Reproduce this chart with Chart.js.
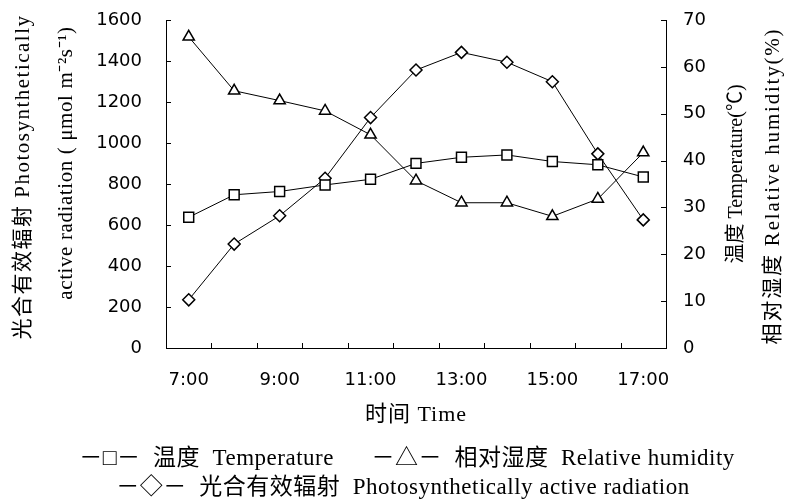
<!DOCTYPE html>
<html>
<head>
<meta charset="utf-8">
<script src="https://cdn.jsdelivr.net/npm/chart.js@4.4.0/dist/chart.umd.min.js"></script>
<style>
  html, body { margin: 0; padding: 0; background: #fff; }
  #wrap { width: 790px; height: 503px; position: relative; }
</style>
</head>
<body>
<div id="wrap"><canvas id="chart" width="790" height="503"></canvas></div>
<script>
// data
const hours = ['7:00', '8:00', '9:00', '10:00', '11:00', '12:00', '13:00', '14:00', '15:00', '16:00', '17:00'];
const temperature = [27.9, 32.7, 33.4, 34.8, 36.0, 39.4, 40.7, 41.2, 39.8, 39.1, 36.5];
const humidity = [66.4, 54.9, 52.8, 50.6, 45.5, 35.7, 31.0, 31.0, 28.1, 31.8, 41.7];
const par = [235, 507, 645, 828, 1124, 1356, 1442, 1394, 1299, 947, 625];
const parTicks = [0, 200, 400, 600, 800, 1000, 1200, 1400, 1600];
const rightTicks = [0, 10, 20, 30, 40, 50, 60, 70];

const tickFont = { family: "'DejaVu Sans', sans-serif", size: 18 };
const serif = "'Liberation Serif', 'Noto Sans CJK SC', serif";

function rotText(ctx, txt, x, y, size, spacing) {
  ctx.save();
  ctx.font = size + 'px ' + serif;
  ctx.letterSpacing = spacing + 'px';
  ctx.translate(x, y);
  ctx.rotate(-Math.PI / 2);
  ctx.fillText(txt, 0, 0);
  ctx.restore();
}

// tick marks inside, axis titles and legend text
const extras = {
  id: 'extras',
  afterDraw(chart) {
    const ctx = chart.ctx;
    const a = chart.chartArea;
    const x = chart.scales.x;
    const yl = chart.scales.y;
    const yr = chart.scales.y1;
    ctx.save();
    ctx.strokeStyle = '#000';
    ctx.lineWidth = 1;
    ctx.beginPath();
    parTicks.forEach(v => {
      const p = Math.round(yl.getPixelForValue(v)) + 0.5;
      ctx.moveTo(a.left, p); ctx.lineTo(a.left + 5, p);
    });
    rightTicks.forEach(v => {
      const p = Math.round(yr.getPixelForValue(v)) + 0.5;
      ctx.moveTo(a.right, p); ctx.lineTo(a.right - 5, p);
    });
    const band = (x.getPixelForValue(1) - x.getPixelForValue(0));
    for (let i = 1; i < hours.length; i++) {
      const p = Math.round(x.getPixelForValue(i) - band / 2) + 0.5;
      ctx.moveTo(p, a.bottom); ctx.lineTo(p, a.bottom - 5);
    }
    ctx.stroke();

    ctx.fillStyle = '#000';
    ctx.textAlign = 'center';
    ctx.textBaseline = 'middle';

    // x title
    ctx.save();
    ctx.font = '22px ' + serif;
    ctx.letterSpacing = '1px';
    ctx.fillText('时间 Time', (a.left + a.right) / 2, 415);
    ctx.restore();

    // left titles
    rotText(ctx, '光合有效辐射 Photosynthetically', 23, 177, 21, 1.5);
    rotText(ctx, 'active radiation ( μmol m⁻²s⁻¹)', 66, 163, 21, 0.6);

    // right titles
    rotText(ctx, '温度 Temperature(℃)', 737, 174, 20, 0);
    rotText(ctx, '相对湿度 Relative humidity(%)', 773, 186, 21, 1.8);

    // legend
    ctx.save();
    ctx.font = '23px ' + serif;
    ctx.letterSpacing = '0.5px';
    ctx.fillText('－□－  温度  Temperature      －△－  相对湿度  Relative humidity', 407, 459);
    ctx.fillText('－◇－  光合有效辐射  Photosynthetically active radiation', 403, 488);
    ctx.restore();
    ctx.restore();
  }
};

const pointCommon = {
  borderColor: '#000',
  borderWidth: 1,
  pointBackgroundColor: '#fff',
  pointBorderColor: '#000',
  pointBorderWidth: 1.5,
  tension: 0,
  fill: false
};

new Chart(document.getElementById('chart'), {
  type: 'line',
  data: {
    labels: hours,
    datasets: [
      Object.assign({ label: '温度 Temperature', data: temperature, yAxisID: 'y1', pointStyle: 'rect', pointRadius: 7 }, pointCommon),
      Object.assign({ label: '相对湿度 Relative humidity', data: humidity, yAxisID: 'y1', pointStyle: 'triangle', pointRadius: 6.5 }, pointCommon),
      Object.assign({ label: '光合有效辐射 Photosynthetically active radiation', data: par, yAxisID: 'y', pointStyle: 'rectRot', pointRadius: 6 }, pointCommon)
    ]
  },
  options: {
    responsive: false,
    animation: false,
    layout: { padding: { top: 20, left: 0, right: 0, bottom: 0 } },
    plugins: { legend: { display: false }, tooltip: { enabled: false } },
    scales: {
      x: {
        offset: true,
        grid: { display: false, drawTicks: false },
        border: { display: true, color: '#000', width: 1 },
        ticks: {
          color: '#000', font: tickFont, padding: 22, autoSkip: false, maxRotation: 0,
          callback: (v, i) => (i % 2 === 0 ? hours[i] : '')
        },
        afterFit: s => { s.height = 155; }
      },
      y: {
        position: 'left',
        min: 0, max: 1600,
        grid: { display: false, drawTicks: false },
        border: { display: true, color: '#000', width: 1 },
        ticks: { color: '#000', font: tickFont, padding: 24, stepSize: 200, callback: v => String(v) },
        afterFit: s => { s.width = 166; s.paddingTop = 0; s.paddingBottom = 0; }
      },
      y1: {
        position: 'right',
        min: 0, max: 70,
        grid: { display: false, drawTicks: false },
        border: { display: true, color: '#000', width: 1 },
        ticks: { color: '#000', font: tickFont, padding: 17, stepSize: 10, callback: v => String(v) },
        afterFit: s => { s.width = 124; s.paddingTop = 0; s.paddingBottom = 0; }
      }
    }
  },
  plugins: [extras]
});
</script>
</body>
</html>
